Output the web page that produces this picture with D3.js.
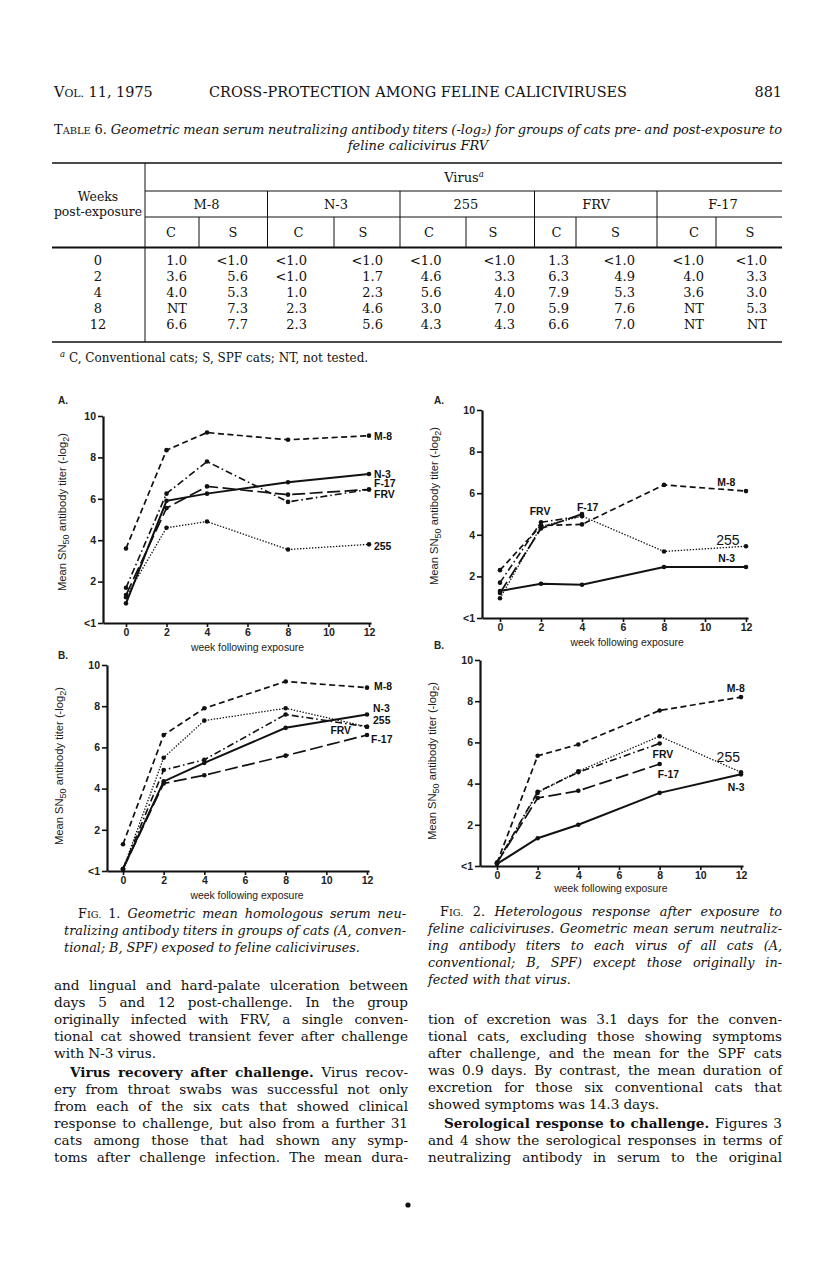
<!DOCTYPE html>
<html>
<head>
<meta charset="utf-8">
<script src="https://cdn.jsdelivr.net/npm/d3@7"></script>
<style>
  html, body { margin: 0; padding: 0; background: #fff; }
  svg { display: block; }
</style>
</head>
<body>
<svg id="page" width="816" height="1261"></svg>
<script>
// ---- chart data ----
const weeks = [0, 2, 4, 8, 12];
const weeksTo4 = [0, 2, 4];
const weeksTo8 = [0, 2, 4, 8];

const yTicks = [0, 2, 4, 6, 8, 10];
const yTickLabels = ["<1", "2", "4", "6", "8", "10"];
const xTicks = [0, 2, 4, 6, 8, 10, 12];

// Fig. 1A, conventional
const fig1A_M8 = [3.6, 8.35, 9.2, 8.85, 9.05];
const fig1A_N3 = [0.95, 5.9, 6.25, 6.8, 7.2];
const fig1A_F17 = [1.35, 5.55, 6.6, 6.2, 6.45];
const fig1A_FRV = [1.7, 6.25, 7.8, 5.85, 6.45];
const fig1A_255 = [1.25, 4.6, 4.9, 3.55, 3.8];

// Fig. 1B, SPF
const fig1B_M8 = [1.3, 6.6, 7.9, 9.2, 8.9];
const fig1B_255 = [0.1, 5.5, 7.3, 7.9, 7.0];
const fig1B_FRV = [0.1, 4.9, 5.4, 7.6, 7.0];
const fig1B_N3 = [0.1, 4.35, 5.25, 6.95, 7.6];
const fig1B_F17 = [0.1, 4.25, 4.65, 5.6, 6.6];

// Fig. 2A, conventional
const fig2A_M8 = [2.3, 4.45, 4.5, 6.4, 6.1];
const fig2A_255 = [0.95, 4.4, 4.9, 3.2, 3.45];
const fig2A_N3 = [1.3, 1.65, 1.6, 2.45, 2.45];
const fig2A_FRV = [1.7, 4.6, 4.9];
const fig2A_F17 = [1.2, 4.3, 5.0];

// Fig. 2B, SPF
const fig2B_M8 = [0.15, 5.35, 5.9, 7.55, 8.2];
const fig2B_255 = [0.15, 3.55, 4.6, 6.3, 4.55];
const fig2B_FRV = [0.15, 3.6, 4.55, 5.95];
const fig2B_F17 = [0.15, 3.3, 3.65, 4.95];
const fig2B_N3 = [0.1, 1.35, 2.0, 3.55, 4.45];

// ---- table 6 ----
const tableViruses = ["M-8", "N-3", "255", "FRV", "F-17"];
const tableWeeks = ["0", "2", "4", "8", "12"];
const row0 = ["1.0", "<1.0", "<1.0", "<1.0", "<1.0", "<1.0", "1.3", "<1.0", "<1.0", "<1.0"];
const row2 = ["3.6", "5.6", "<1.0", "1.7", "4.6", "3.3", "6.3", "4.9", "4.0", "3.3"];
const row4 = ["4.0", "5.3", "1.0", "2.3", "5.6", "4.0", "7.9", "5.3", "3.6", "3.0"];
const row8 = ["NT", "7.3", "2.3", "4.6", "3.0", "7.0", "5.9", "7.6", "NT", "5.3"];
const row12 = ["6.6", "7.7", "2.3", "5.6", "4.3", "4.3", "6.6", "7.0", "NT", "NT"];

const SERIF = "'DejaVu Serif', 'Liberation Serif', serif";
const SANS = "'Liberation Sans', Arial, sans-serif";
const INK = "#111";

const svg = d3.select("#page");
svg.append("rect").attr("width", 816).attr("height", 1261).attr("fill", "#fff");

// ---------- text helpers ----------
function addWord(g, word, st, fs) {
  const t = g.append("text")
    .attr("font-family", SERIF)
    .attr("font-size", fs)
    .attr("fill", INK);
  if (st === "b") t.attr("font-weight", "bold");
  if (st === "i") t.attr("font-style", "italic");
  if (st === "sc") {
    t.append("tspan").text(word[0]);
    t.append("tspan").attr("font-size", fs * 0.76).text(word.slice(1).toUpperCase());
  } else {
    t.text(word);
  }
  return t;
}

// segs: [[style, text], ...]; spread across width when justify is set,
// squeezed a little when the words would not fit
function textLine(g, x, y, width, segs, fs, justify) {
  const words = [];
  segs.forEach(([st, s]) => {
    s.split(" ").filter(w => w !== "").forEach(w => words.push({ st, w }));
  });
  const line = g.append("g");
  let total = 0;
  words.forEach(d => {
    d.el = addWord(line, d.w, d.st, fs);
    d.len = d.el.node().getComputedTextLength();
    total += d.len;
  });
  const n = words.length;
  const minGap = fs * 0.2;
  const natGap = fs * 0.3;
  let k = 1;
  if (justify && total + minGap * (n - 1) > width) k = (width - minGap * (n - 1)) / total;
  const gap = justify && n > 1 ? (width - total * k) / (n - 1) : natGap;
  let cx = x;
  words.forEach(d => {
    d.el.attr("transform", `translate(${cx},${y}) scale(${k},1)`);
    cx += d.len * k + gap;
  });
}

function paragraph(g, x, y, width, lines, fs, lh, indent, justifyLast) {
  lines.forEach((segs, i) => {
    const ind = i === 0 ? indent : 0;
    const just = i < lines.length - 1 || !!justifyLast;
    textLine(g, x + ind, y + i * lh, width - ind, segs, fs, just);
  });
}

const txt = svg.append("g");

// page frame
const X0 = 54, X1 = 782;
const LEFT = 54, RIGHT = 428, COLW = 354, LH = 17, FS = 13.6;

// ---------- running head ----------
const head = txt.append("text").attr("x", X0).attr("y", 97)
  .attr("font-family", SERIF).attr("font-size", 14.4).attr("fill", INK);
head.append("tspan").text("V");
head.append("tspan").attr("font-size", 10.9).text("OL.");
head.append("tspan").text(" 11, 1975");
txt.append("text").attr("x", (X0 + X1) / 2).attr("y", 97).attr("text-anchor", "middle")
  .attr("font-family", SERIF).attr("font-size", 14.4).attr("fill", INK)
  .text("CROSS-PROTECTION AMONG FELINE CALICIVIRUSES");
txt.append("text").attr("x", X1).attr("y", 97).attr("text-anchor", "end")
  .attr("font-family", SERIF).attr("font-size", 14.4).attr("fill", INK)
  .text("881");

// ---------- table title ----------
textLine(txt, X0, 134, X1 - X0, [
  ["sc", "Table"], ["r", "6."],
  ["i", "Geometric mean serum neutralizing antibody titers (-log₂) for groups of cats pre- and post-exposure to"]
], 13, true);
txt.append("text").attr("x", (X0 + X1) / 2).attr("y", 150).attr("text-anchor", "middle")
  .attr("font-family", SERIF).attr("font-size", 13).attr("font-style", "italic").attr("fill", INK)
  .text("feline calicivirus FRV");

// ---------- table body ----------
const tb = svg.append("g").attr("font-family", SERIF).attr("font-size", 13).attr("fill", INK);
const tL = 52, tR = X1, stubX = 145;
const groupSep = [267.5, 400, 534.5, 657];
const csSep = [199, 334, 466, 576, 716];
const cCenter = [171, 298.5, 429, 556.5, 694];
const sCenter = [233, 363, 493, 615.5, 750];
const cRight = [187, 307, 441.5, 569, 704];
const sRight = [248, 383, 515, 635, 767];
const groupCenter = [206.5, 336, 466, 596, 723];
const rowY = [265, 281, 297, 313, 329];

const hline = (x1, x2, y, w) => tb.append("line")
  .attr("x1", x1).attr("x2", x2).attr("y1", y).attr("y2", y)
  .attr("stroke", INK).attr("stroke-width", w);
const vline = (x, y1, y2) => tb.append("line")
  .attr("x1", x).attr("x2", x).attr("y1", y1).attr("y2", y2)
  .attr("stroke", INK).attr("stroke-width", 1);

hline(tL, tR, 163, 1.6);
hline(stubX, tR, 191, 1);
hline(stubX, tR, 217, 1);
hline(tL, tR, 247.5, 1.8);
hline(tL, tR, 342, 1.6);
vline(stubX, 163, 342);
groupSep.forEach(x => vline(x, 191, 247));
csSep.forEach(x => vline(x, 217, 247));

const vh = tb.append("text").attr("x", 464).attr("y", 182).attr("text-anchor", "middle").text("Virus");
vh.append("tspan").attr("font-size", 8.5).attr("font-style", "italic").attr("dy", -5).text("a");
tb.append("text").attr("x", 98).attr("y", 201).attr("text-anchor", "middle")
  .attr("font-size", 12.4).text("Weeks");
tb.append("text").attr("x", 98).attr("y", 216).attr("text-anchor", "middle")
  .attr("font-size", 12.4).text("post-exposure");

tb.selectAll(".vname").data(tableViruses).join("text")
  .attr("x", (d, i) => groupCenter[i]).attr("y", 209).attr("text-anchor", "middle").text(d => d);
tb.selectAll(".chead").data(cCenter).join("text")
  .attr("x", d => d).attr("y", 237).attr("text-anchor", "middle").text("C");
tb.selectAll(".shead").data(sCenter).join("text")
  .attr("x", d => d).attr("y", 237).attr("text-anchor", "middle").text("S");

const tableRows = [row0, row2, row4, row8, row12];
tableRows.forEach((row, r) => {
  tb.append("text").attr("x", 98).attr("y", rowY[r]).attr("text-anchor", "middle").text(tableWeeks[r]);
  row.forEach((v, k) => {
    const gi = Math.floor(k / 2);
    const x = k % 2 === 0 ? cRight[gi] : sRight[gi];
    tb.append("text").attr("x", x).attr("y", rowY[r]).attr("text-anchor", "end").text(v);
  });
});

const fn = txt.append("text").attr("x", 60).attr("y", 362)
  .attr("font-family", SERIF).attr("font-size", 12).attr("fill", INK);
fn.append("tspan").attr("font-size", 8.5).attr("font-style", "italic").attr("dy", -5).text("a");
fn.append("tspan").attr("dy", 5).text(" C, Conventional cats; S, SPF cats; NT, not tested.");

// ---------- charts ----------
const styles = {
  "M-8": { dash: "6,3.5", w: 1.7 },
  "N-3": { dash: null, w: 2 },
  "255": { dash: "1.4,1.6", w: 1.3 },
  "FRV": { dash: "7,3,1.6,3", w: 1.6 },
  "F-17": { dash: "13,4.5", w: 1.7 }
};

const panels = [
  {
    letter: "A.", letterXY: [58, 404], axisX: 103, x0: 126, x12: 369, y0: 623, y10: 416,
    ylab: [66, 512], xlab: [6, 651],
    series: [
      { name: "M-8", w: weeks, v: fig1A_M8, lab: [12.25, 9.0] },
      { name: "N-3", w: weeks, v: fig1A_N3, lab: [12.25, 7.2] },
      { name: "F-17", w: weeks, v: fig1A_F17, lab: [12.25, 6.75] },
      { name: "FRV", w: weeks, v: fig1A_FRV, lab: [12.25, 6.2] },
      { name: "255", w: weeks, v: fig1A_255, lab: [12.25, 3.7] }
    ]
  },
  {
    letter: "B.", letterXY: [58, 659], axisX: 107, x0: 123, x12: 367, y0: 871, y10: 665,
    ylab: [63, 766], xlab: [6.1, 899],
    series: [
      { name: "M-8", w: weeks, v: fig1B_M8, lab: [12.35, 8.98] },
      { name: "255", w: weeks, v: fig1B_255, lab: [12.3, 7.33] },
      { name: "FRV", w: weeks, v: fig1B_FRV, lab: [10.2, 6.85] },
      { name: "N-3", w: weeks, v: fig1B_N3, lab: [12.3, 7.9] },
      { name: "F-17", w: weeks, v: fig1B_F17, lab: [12.2, 6.4] }
    ]
  },
  {
    letter: "A.", letterXY: [434, 404], axisX: 482, x0: 500, x12: 746, y0: 618, y10: 410,
    ylab: [438, 506], xlab: [6.2, 646],
    series: [
      { name: "M-8", w: weeks, v: fig2A_M8, lab: [10.6, 6.5] },
      { name: "255", w: weeks, v: fig2A_255, lab: [10.55, 3.75], big: true },
      { name: "N-3", w: weeks, v: fig2A_N3, lab: [10.65, 2.88] },
      { name: "FRV", w: weeksTo4, v: fig2A_FRV, lab: [1.45, 5.14] },
      { name: "F-17", w: weeksTo4, v: fig2A_F17, lab: [3.75, 5.3] }
    ]
  },
  {
    letter: "B.", letterXY: [434, 649], axisX: 480, x0: 497, x12: 741, y0: 866, y10: 660,
    ylab: [436, 761], xlab: [5.6, 892],
    series: [
      { name: "M-8", w: weeks, v: fig2B_M8, lab: [11.3, 8.64] },
      { name: "255", w: weeks, v: fig2B_255, lab: [10.8, 5.3], big: true },
      { name: "FRV", w: weeksTo8, v: fig2B_FRV, lab: [7.65, 5.44] },
      { name: "F-17", w: weeksTo8, v: fig2B_F17, lab: [7.9, 4.47] },
      { name: "N-3", w: weeks, v: fig2B_N3, lab: [11.35, 3.83] }
    ]
  }
];

panels.forEach(p => {
  const g = svg.append("g");
  const x = d3.scaleLinear().domain([0, 12]).range([p.x0, p.x12]);
  const y = d3.scaleLinear().domain([0, 10]).range([p.y0, p.y10]);

  // axes
  const xa = x.copy().domain([x.invert(p.axisX), 12.1]).range([p.axisX, x(12.1)]);
  const gx = g.append("g").attr("transform", `translate(0,${p.y0})`)
    .call(d3.axisBottom(xa).tickValues(xTicks).tickSize(4).tickSizeOuter(0).tickPadding(2));
  const gy = g.append("g").attr("transform", `translate(${p.axisX},0)`)
    .call(d3.axisLeft(y).tickValues(yTicks).tickFormat((d, i) => yTickLabels[i])
      .tickSize(5).tickSizeOuter(0).tickPadding(2));
  [gx, gy].forEach(a => {
    a.select(".domain").attr("stroke", INK).attr("stroke-width", 2.2);
    a.selectAll(".tick line").attr("stroke", INK).attr("stroke-width", 1.6);
    a.selectAll(".tick text").attr("font-family", SANS).attr("font-size", 10.5)
      .attr("font-weight", "bold").attr("fill", "#222");
  });

  // axis titles
  g.append("text").attr("x", x(p.xlab[0])).attr("y", p.xlab[1]).attr("text-anchor", "middle")
    .attr("font-family", SANS).attr("font-size", 10.4).attr("fill", "#1a1a1a")
    .text("week following exposure");
  const yl = g.append("text")
    .attr("transform", `translate(${p.ylab[0]},${p.ylab[1]}) rotate(-90)`)
    .attr("text-anchor", "middle").attr("font-family", SANS).attr("font-size", 11.2).attr("fill", "#1a1a1a");
  yl.append("tspan").text("Mean SN");
  yl.append("tspan").attr("font-size", 9).attr("dy", 3).text("50");
  yl.append("tspan").attr("dy", -3).text(" antibody titer (-log");
  yl.append("tspan").attr("font-size", 9).attr("dy", 3).text("2");
  yl.append("tspan").attr("dy", -3).text(")");

  g.append("text").attr("x", p.letterXY[0]).attr("y", p.letterXY[1])
    .attr("font-family", SANS).attr("font-size", 10).attr("font-weight", "bold").attr("fill", "#222")
    .text(p.letter);

  // lines, markers and end labels
  const line = d3.line().x(d => x(d[0])).y(d => y(d[1]));
  p.series.forEach(s => {
    const pts = s.w.map((wk, i) => [wk, s.v[i]]);
    const st = styles[s.name];
    g.append("path").datum(pts).attr("d", line)
      .attr("fill", "none").attr("stroke", INK).attr("stroke-width", st.w)
      .attr("stroke-dasharray", st.dash);
    g.selectAll(null).data(pts).join("circle")
      .attr("cx", d => x(d[0])).attr("cy", d => y(d[1])).attr("r", 2.3).attr("fill", INK);
    g.append("text").attr("x", x(s.lab[0])).attr("y", y(s.lab[1]))
      .attr("dy", "0.35em").attr("font-family", SANS)
      .attr("font-size", s.big ? 14 : 10.4).attr("font-weight", s.big ? "normal" : "bold")
      .attr("fill", INK).text(s.name);
  });
});

// ---------- captions ----------
paragraph(txt, LEFT + 10, 918, COLW - 12, [
  [["sc", "Fig."], ["r", "1."], ["i", "Geometric mean homologous serum neu-"]],
  [["i", "tralizing antibody titers in groups of cats (A, conven-"]],
  [["i", "tional; B, SPF) exposed to feline caliciviruses."]]
], 12.8, LH, 14);

paragraph(txt, RIGHT, 916, COLW, [
  [["sc", "Fig."], ["r", "2."], ["i", "Heterologous response after exposure to"]],
  [["i", "feline caliciviruses. Geometric mean serum neutraliz-"]],
  [["i", "ing antibody titers to each virus of all cats (A,"]],
  [["i", "conventional; B, SPF) except those originally in-"]],
  [["i", "fected with that virus."]]
], 12.8, LH, 12);

// ---------- body text ----------
paragraph(txt, LEFT, 990, COLW, [
  [["r", "and lingual and hard-palate ulceration between"]],
  [["r", "days 5 and 12 post-challenge. In the group"]],
  [["r", "originally infected with FRV, a single conven-"]],
  [["r", "tional cat showed transient fever after challenge"]],
  [["r", "with N-3 virus."]]
], FS, LH, 0);

paragraph(txt, LEFT, 1077, COLW, [
  [["b", "Virus recovery after challenge."], ["r", "Virus recov-"]],
  [["r", "ery from throat swabs was successful not only"]],
  [["r", "from each of the six cats that showed clinical"]],
  [["r", "response to challenge, but also from a further 31"]],
  [["r", "cats among those that had shown any symp-"]],
  [["r", "toms after challenge infection. The mean dura-"]]
], FS, LH, 16, true);

paragraph(txt, RIGHT, 1024, COLW, [
  [["r", "tion of excretion was 3.1 days for the conven-"]],
  [["r", "tional cats, excluding those showing symptoms"]],
  [["r", "after challenge, and the mean for the SPF cats"]],
  [["r", "was 0.9 days. By contrast, the mean duration of"]],
  [["r", "excretion for those six conventional cats that"]],
  [["r", "showed symptoms was 14.3 days."]]
], FS, LH, 0);

// this paragraph runs on to the next page, so its last line is justified too
paragraph(txt, RIGHT, 1128, COLW, [
  [["b", "Serological response to challenge."], ["r", "Figures 3"]],
  [["r", "and 4 show the serological responses in terms of"]],
  [["r", "neutralizing antibody in serum to the original"]]
], FS, LH, 16, true);

svg.append("circle").attr("cx", 408).attr("cy", 1205).attr("r", 2.6).attr("fill", INK);
</script>
</body>
</html>
